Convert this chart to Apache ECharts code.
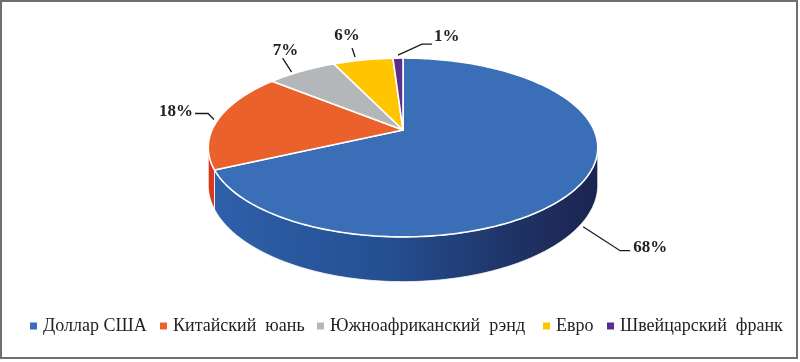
<!DOCTYPE html>
<html><head><meta charset="utf-8">
<script src="https://cdn.jsdelivr.net/npm/echarts@6/dist/echarts.min.js"></script>
<style>html,body{margin:0;padding:0;background:#fff}#c{width:800px;height:362px}</style>
</head><body><div id="c"></div>
<script>
// ---- data ----
const categories = ['Доллар США', 'Китайский  юань', 'Южноафриканский  рэнд', 'Евро', 'Швейцарский  франк'];
const values = [68, 18, 7, 6, 1];

// ---- style / layout ----
const topColors = ['#3A6EB6', '#EA612B', '#B4B7B9', '#FFC600', '#5B2D8D'];
const sideColors = [
  {type:'linear', x:0, y:0, x2:1, y2:0, colorStops:[
    {offset:0, color:'#2F60AA'}, {offset:0.45, color:'#244F92'},
    {offset:0.78, color:'#1F3366'}, {offset:1, color:'#1B2450'}]},
  '#D8391E', '#8E9193', '#D9A300', '#3E1E66'];
const CX = 403, CY = 130, RX = 191, RY = 86, K = 0.1955, D = 36;
const legendLeft = [30, 160, 317, 543, 607];
// label leader paths & text offsets relative to slice-mid anchor
const labelCfg = [
  {bottom:true, path:[[0,5],[37,29],[47,29]], text:[50,26], align:'left'},
  {path:[[-4,0],[-10,-6],[-23,-6]], text:[-25,-8], align:'right'},
  {path:[[-10,1],[-19,-13]], text:[-16,-21], align:'center'},
  {path:[[-8,-3],[-11,-12]], text:[-16,-24], align:'center'},
  {path:[[0,-3],[24,-14],[34,-14]], text:[36,-21], align:'left'}
];

const total = values.reduce((a, b) => a + b, 0);
const starts = [];
{ let acc = 0; values.forEach(v => { starts.push(acc / total * Math.PI * 2); acc += v; }); }

function proj(a, drop) {
  const u = Math.sin(a), v = -Math.cos(a);
  const s = 1 / (1 - K * v);
  return [CX + RX * u * s, CY + RY * v * s + (drop ? D * s : 0)];
}
function arc(a0, a1, drop) {
  const pts = [];
  const n = Math.max(2, Math.ceil(Math.abs(a1 - a0) / (Math.PI / 180)));
  for (let j = 0; j <= n; j++) pts.push(proj(a0 + (a1 - a0) * j / n, drop));
  return pts;
}
const aL = Math.acos(-K), aR = 2 * Math.PI - Math.acos(-K);

function makeRender(i) {
  return function (params, api) {
    const a0 = starts[i];
    const a1 = a0 + api.value(0) / total * Math.PI * 2;
    const children = [];
    const lo = Math.max(a0, aL), hi = Math.min(a1, aR);
    if (lo < hi) {
      const pts = arc(lo, hi, false).concat(arc(hi, lo, true));
      children.push({type:'polygon', z2:1, shape:{points:pts},
        style:{fill:sideColors[i], stroke:'#ffffff', lineWidth:0.8}});
    }
    const tp = [[CX, CY]].concat(arc(a0, a1, false));
    children.push({type:'polygon', z2:10, shape:{points:tp},
      style:{fill:topColors[i], stroke:'#ffffff', lineWidth:1.6, lineJoin:'round'}});
    const cfg = labelCfg[i];
    const am = (a0 + a1) / 2;
    const anc = proj(am, !!cfg.bottom);
    const lp = cfg.path.map(p => [anc[0] + p[0], anc[1] + p[1]]);
    children.push({type:'polyline', z2:20, shape:{points:lp},
      style:{stroke:'#1a1a1a', lineWidth:1.3, fill:null}});
    children.push({type:'text', z2:21, x:anc[0] + cfg.text[0], y:anc[1] + cfg.text[1],
      style:{text:Math.round(api.value(0) / total * 100) + '%', fill:'#222',
        font:'bold 17px "Liberation Serif", serif',
        align:cfg.align, verticalAlign:'middle'}});
    return {type:'group', children};
  };
}

const series = categories.map((name, i) => ({
  type:'custom', name, coordinateSystem:'none', renderItem:makeRender(i),
  data:[[values[i]]], itemStyle:{color:topColors[i]}, silent:true, animation:false
}));

const legends = categories.map((name, i) => ({
  data:[name], left:legendLeft[i], top:317, icon:'rect', itemWidth:7, itemHeight:7,
  selectedMode:false, padding:0,
  textStyle:{color:'#222', fontSize:18, fontFamily:'"Liberation Serif", serif', padding:[0,0,0,1]}
}));

const chart = echarts.init(document.getElementById('c'), null, {renderer:'canvas'});
chart.setOption({
  backgroundColor:'#ffffff',
  animation:false,
  legend:legends,
  graphic:[{type:'rect', shape:{x:1, y:1, width:796, height:357},
    style:{fill:'none', stroke:'#6f6f6f', lineWidth:2}, silent:true, z:100}],
  series
});
</script></body></html>
